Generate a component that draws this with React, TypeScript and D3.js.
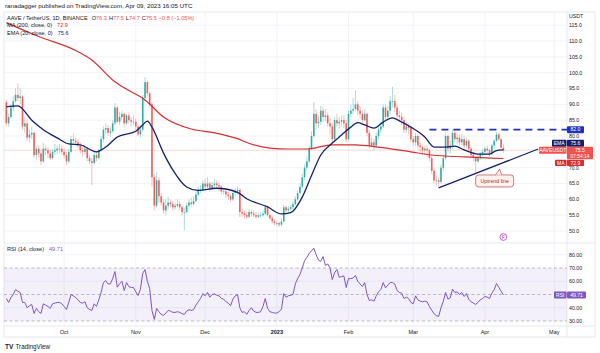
import React from "react";
import * as d3 from "d3";

// ---- data ----
const firstDay = [2022, 8, 6]; // Sep 6, 2022 (UTC), one candle per day
const firstOpen = 90.7;
const closes = [
  84, 86, 89, 91, 93, 92, 92.5, 83, 84, 79.5,
  80.5, 81, 74, 76, 74.5, 72, 76, 75.5, 74.5, 73,
  75, 75.5, 76, 76, 75, 74, 72, 75, 79, 78.5,
  78, 77, 75.5, 75, 76, 73, 72, 71.5, 74, 73,
  75.5, 79, 82, 82.5, 81, 81.5, 84, 89, 84.5, 86,
  87, 84, 86.5, 85, 84.5, 84.5, 83, 80.5, 82, 92,
  97, 93.5, 90, 67, 58, 66, 61, 59, 56.5, 58,
  59, 58.5, 57.5, 58, 58.5, 57.5, 56, 56, 58, 59,
  58.5, 59.5, 61.5, 63, 63, 65, 64, 65, 63.5, 64.5,
  65, 64.5, 64, 62.5, 62.5, 61.5, 61, 60, 62, 62.5,
  63, 56, 55.5, 55, 54.5, 56, 55.5, 55, 54.5, 55,
  55, 55.5, 57.5, 55, 54, 53, 52.5, 52.5, 52, 53,
  57.5, 56.5, 57, 57.5, 58.5, 60, 62, 64, 67, 70,
  72, 76, 80, 87, 84, 84.5, 88, 86, 86.5, 84,
  83, 79, 85, 84, 84.5, 85, 84, 79, 87, 88,
  88.5, 90, 88, 87, 85, 87, 81, 77, 78, 77,
  80, 82, 83, 89, 86, 88, 91, 91, 89, 86.5,
  86, 85, 82, 83, 82.5, 79, 78, 80, 77, 76.5,
  75.5, 76, 75.5, 73, 69, 66, 66, 65.5, 70, 73,
  80, 76, 77, 81, 79, 79.5, 78, 79, 77, 78.5,
  76, 74, 73, 72, 73, 74.5, 75, 76, 75.5, 74.5,
  77, 78.5, 80.5, 79, 76.3, 75.5,
];
const highs = [
  91.5, 87, 90, 92.5, 95, 96.7, 95, 93, 86, 85,
  82, 83, 81.5, 77, 77, 75.5, 77.8, 77, 76.5, 75.5,
  76, 77.5, 77, 77.5, 77, 76, 75, 76, 80, 81,
  79.5, 79, 78, 76.5, 77, 76.5, 74, 73, 75, 75,
  76, 80, 83, 84, 83.5, 83, 85, 90.4, 89.5, 87.6,
  88, 87.5, 87, 87.5, 86, 86.5, 85.5, 83.5, 83, 93,
  98.6, 97.5, 94, 90.5, 68, 68.5, 67, 62, 60, 60,
  60.7, 60, 59.5, 59, 60, 59.5, 58, 57.5, 59, 60,
  60.5, 61, 62.5, 64, 64.5, 66, 66.5, 67, 65.5, 65.5,
  66.5, 66, 65.5, 64.5, 63.6, 63, 62.5, 61.5, 63, 63.5,
  64, 63.5, 57, 56.5, 56, 57, 56.8, 56.5, 56, 55.8,
  56, 56.5, 58.3, 58, 55.5, 54.8, 53.6, 53.2, 53, 54,
  58.2, 58, 57.8, 58.3, 59.3, 61, 62.8, 65, 68, 71,
  73.5, 77, 81.5, 90.7, 88.5, 86.5, 89.5, 89, 88.5, 87.5,
  85.5, 84, 86, 87, 86, 86.5, 86.5, 85, 88, 90,
  92, 94.5, 91, 89.5, 88, 88.5, 87.5, 82, 79.5, 79,
  81, 83, 84.5, 90, 90, 89.5, 92.5, 95.5, 93, 90,
  88, 87.5, 86, 84.5, 84, 83, 80, 81, 80.5, 78,
  77, 77, 77, 76, 74, 70, 67.5, 67, 71, 74,
  81.3, 80.5, 78.5, 82, 82, 81, 80.5, 80.5, 80, 79.5,
  79, 76.5, 75, 73.5, 74, 75, 76, 76.5, 77, 76,
  77.5, 79, 81.3, 81, 79.5, 77.5,
];
const lows = [
  83, 83, 85.5, 88, 90.5, 91, 90, 82, 81, 78.5,
  78, 79, 73, 72.5, 73, 70.8, 71.5, 74, 73, 72.4,
  72.5, 74, 74.5, 74.5, 74, 73, 71, 71.5, 74.5, 77.5,
  77, 76, 74.5, 73.5, 74, 72, 71, 64.5, 71, 72,
  72.5, 75, 78, 80.5, 80, 79.7, 81, 83.5, 84, 83.5,
  85, 83, 83.5, 84, 83, 83.5, 82, 80, 79.5, 81.5,
  91, 92.5, 89, 64, 56.5, 57.5, 59, 58, 55.5, 55,
  57, 57.5, 56.6, 56.8, 57.5, 56.5, 55, 50.3, 55.5, 57.5,
  57.8, 58, 59, 61, 62, 62.5, 63, 63.5, 62.5, 63,
  63.5, 63.5, 62.5, 61.5, 61.5, 60.5, 59.8, 59.2, 59.5, 61,
  61.5, 54.4, 54.5, 54, 53.8, 54, 54.5, 54.3, 53.8, 54,
  54.2, 54.5, 55, 54.5, 53.5, 52.3, 51.8, 51.5, 51.3, 51.5,
  52.8, 55.8, 55.5, 56.2, 56.8, 58, 59.5, 61.5, 63.5, 66,
  69, 71.5, 75.5, 79.5, 82, 82.5, 83.5, 84.5, 84.5, 83,
  80.5, 77.8, 78.5, 83, 82.5, 83, 82.5, 78, 78.5, 86,
  87, 88, 86.5, 85.5, 84, 84.5, 80, 76, 76.5, 75.5,
  76, 79, 81, 82.5, 85, 85, 87, 89, 87.5, 85,
  84.5, 83.5, 81, 81, 80.5, 78, 77, 77, 76, 75,
  74, 74, 73.4, 72, 68, 65, 64.5, 63.9, 65, 69,
  72.5, 75, 74.5, 76, 78, 77.5, 77, 77, 76, 76,
  75, 73, 72, 68.6, 71.5, 72.5, 73.5, 74, 74.5, 73.5,
  74, 76, 78, 78.5, 76, 74.7,
];
const rsiValues = [
  47, 44, 47.7, 50, 53.7, 52.5, 51.5, 44, 44, 40,
  41.5, 42.5, 35.7, 39.5, 37, 35.7, 43, 42, 41, 39.5,
  43, 43.5, 44, 44, 43, 41, 38.7, 44, 50, 49,
  47.7, 46, 44, 43.5, 44.5, 40, 38.7, 38, 43, 41,
  46, 51.5, 59, 60.5, 58, 58, 62, 67.3, 55.5, 58,
  60, 53, 59, 56, 55.3, 55.3, 52, 49.3, 54, 66,
  68.8, 60, 54.5, 38, 31.2, 39.5, 37, 35, 34.2, 36,
  38, 37.5, 36.5, 36.5, 37, 36.5, 35.5, 35, 37.5, 38.5,
  38, 38.5, 42, 44.5, 47, 50.7, 49, 51.5, 48, 50,
  50.5, 49.5, 49, 47, 46.5, 44.5, 43.5, 41.5, 46.5, 49,
  50, 40, 36.5, 37, 35, 38, 40, 37.5, 36.5, 36.5,
  37, 41, 47, 39.5, 37, 36.5, 36, 36, 37, 39,
  50.7, 48, 49, 49.5, 50, 58, 62, 65, 70, 75.5,
  78, 81, 83, 85, 80, 76, 75, 78.6, 72, 73,
  70, 61.3, 66.5, 68.8, 63, 63.5, 64, 55.3, 62, 62,
  62.5, 64.3, 60, 58, 56, 59, 50, 45.5, 46, 45,
  49, 52, 53.8, 59, 55, 57, 59, 59, 58, 53,
  51.5, 51, 47, 48, 47, 44, 43, 49, 46, 45,
  44.5, 45, 44.5, 41, 38, 35.5, 34, 33.5, 40, 45,
  51.5, 46.5, 47.5, 54, 51.5, 52, 50, 51.5, 48.5, 50.7,
  46.5, 44.5, 43.5, 42.5, 44, 46, 47, 48.5, 48, 47,
  51, 53.5, 58.3, 55.5, 52.5, 49.71,
];
const ema20: [string, number][] = [
  ["2022-09-06", 89.2], ["2022-09-11", 89.5], ["2022-09-17", 85], ["2022-09-22", 82],
  ["2022-09-28", 79.4], ["2022-10-03", 77.5], ["2022-10-08", 77.2], ["2022-10-15", 75],
  ["2022-10-19", 76.5], ["2022-10-24", 79.7], ["2022-11-01", 81.5], ["2022-11-04", 83.5],
  ["2022-11-06", 84.7], ["2022-11-08", 82.8], ["2022-11-13", 74.6], ["2022-11-17", 69.3],
  ["2022-11-23", 63.9], ["2022-11-28", 62.8], ["2022-12-06", 63.5], ["2022-12-15", 62.2],
  ["2022-12-19", 60.2], ["2022-12-28", 57.6], ["2023-01-03", 55.4], ["2023-01-07", 55.8],
  ["2023-01-12", 60.7], ["2023-01-16", 67.5], ["2023-01-20", 74], ["2023-01-25", 77.8],
  ["2023-01-29", 80.3], ["2023-02-02", 82.8], ["2023-02-05", 84.2], ["2023-02-08", 83.5],
  ["2023-02-12", 82.5], ["2023-02-16", 84.4], ["2023-02-20", 85.7], ["2023-02-23", 84.8],
  ["2023-02-28", 82.8], ["2023-03-06", 79.7], ["2023-03-10", 76.5], ["2023-03-15", 76.5],
  ["2023-03-19", 76.8], ["2023-03-23", 75.6], ["2023-03-29", 74.3], ["2023-04-03", 74.3],
  ["2023-04-06", 75.4], ["2023-04-09", 75.6],
];
const ma200: [string, number][] = [
  ["2022-09-06", 115.8], ["2022-09-20", 111.4], ["2022-10-06", 107], ["2022-10-13", 104],
  ["2022-10-22", 97.7], ["2022-10-27", 95.2], ["2022-11-05", 91.4], ["2022-11-13", 86],
  ["2022-11-25", 82.2], ["2022-12-05", 81], ["2022-12-14", 79.4], ["2022-12-22", 77.2],
  ["2022-12-29", 76.2], ["2023-01-06", 75.9], ["2023-01-14", 75.9], ["2023-01-25", 77.2],
  ["2023-02-04", 77.2], ["2023-02-14", 76.5], ["2023-02-28", 75], ["2023-03-09", 74],
  ["2023-03-23", 73.4], ["2023-04-09", 72.9],
];
const priceTicks = [50, 55, 60, 65, 70, 80, 85, 90, 95, 100, 105, 110, 115];
const rsiTicks = [30, 40, 60, 70, 80];
const rsiGrid = [40, 60, 80];
const rsiDashed = [30, 50, 70];
const months: [string, string][] = [
  ["2022-10-01", "Oct"], ["2022-11-01", "Nov"], ["2022-12-01", "Dec"], ["2023-01-01", "2023"],
  ["2023-02-01", "Feb"], ["2023-03-01", "Mar"], ["2023-04-01", "Apr"], ["2023-05-01", "May"],
];
const resistance = { level: 82.0, from: "2023-03-08" };
const trendLine: [string, number][] = [["2023-03-12", 63.6], ["2023-04-24", 75.9]];
const callout = { date: "2023-03-28", price: 67.7, text: "Uptrend line" };
const eventMark = { date: "2023-04-09", price: 48.1, text: "F" };
const last = { close: 75.5, ema: 75.6, ma: 72.9, rsi: 49.71, countdown: "07:54:14" };

// ---- layout ----
const W = 600, H = 353;
const L = 4, R = 567, RE = 595;
const PT = 12, PB = 243, RB = 326, TB = 337;
const FONT = "'Liberation Sans', Arial, sans-serif";
const UP = "#26a69a", DOWN = "#ef5350";
const TXT = "#131722", GRID = "#f0f3fa", BORDER = "#e0e3eb";
const EMA_C = "#131f6b", MA_C = "#d32f2f", RES_C = "#1f33b8", RSI_C = "#7e57c2";

const parse = d3.utcParse("%Y-%m-%d");
const x = d3.scaleUtc()
  .domain([new Date(Date.UTC(2022, 8, 5)), new Date(Date.UTC(2023, 4, 6, 12))])
  .range([L, R]);
const y = d3.scaleLinear().domain([50, 110]).range([231, 41]);
const yr = d3.scaleLinear().domain([30, 70]).range([321, 268]);

const candles = closes.map((c, i) => ({
  date: new Date(Date.UTC(firstDay[0], firstDay[1], firstDay[2] + i)),
  o: i === 0 ? firstOpen : closes[i - 1],
  h: highs[i],
  l: lows[i],
  c,
}));

const priceLine = d3.line<[string, number]>()
  .x(d => x(parse(d[0]) as Date))
  .y(d => y(d[1]))
  .curve(d3.curveMonotoneX);

const rsiLine = d3.line<number>()
  .x((_, i) => x(candles[i].date))
  .y(d => yr(d));

const Tag = ({ x0, yc, w, h = 7, fill, children }: any) => (
  <g>
    <rect x={x0} y={yc - h / 2} width={w} height={h} fill={fill} rx={0.8} />
    <text x={x0 + w / 2} y={yc + 1.8} textAnchor="middle" fontSize={5.1} fill="#fff" fontFamily={FONT}>
      {children}
    </text>
  </g>
);

export default function App() {
  const yc = y(last.close);
  const emaY = yc - 7;
  const maY = yc + 12.6;
  const resY = y(resistance.level);
  const cx = x(parse(callout.date) as Date);
  const cy = y(callout.price);
  const rsiY = yr(last.rsi);

  return (
    <div style={{ position: "absolute", left: 0, top: 0, width: W, height: H, background: "#fff" }}>
      <svg width={W} height={H} style={{ display: "block" }} fontFamily={FONT}>
        <defs>
          <clipPath id="pricePane"><rect x={L} y={PT} width={R - L} height={PB - PT} /></clipPath>
          <clipPath id="rsiPane"><rect x={L} y={PB} width={R - L} height={RB - PB} /></clipPath>
        </defs>
        <rect width={W} height={H} fill="#fff" />

        <text x={5} y={8} fontSize={6.2} fill={TXT}>
          ranadagger published on TradingView.com, Apr 09, 2023 16:05 UTC
        </text>

        {/* grid */}
        {priceTicks.map(t => (
          <line key={"g" + t} x1={L} x2={R} y1={y(t)} y2={y(t)} stroke={GRID} strokeWidth={1} />
        ))}
        {rsiGrid.map(t => (
          <line key={"rg" + t} x1={L} x2={R} y1={yr(t)} y2={yr(t)} stroke={GRID} strokeWidth={1} />
        ))}
        {months.map(([d]) => {
          const mx = x(parse(d) as Date);
          return <line key={"v" + d} x1={mx} x2={mx} y1={PT} y2={RB} stroke={GRID} strokeWidth={1} />;
        })}

        {/* frame */}
        <rect x={L} y={PT} width={RE - L} height={TB - PT} fill="none" stroke={BORDER} strokeWidth={0.8} />
        <line x1={L} x2={RE} y1={PB} y2={PB} stroke={BORDER} strokeWidth={0.8} />
        <line x1={L} x2={RE} y1={RB} y2={RB} stroke={BORDER} strokeWidth={0.8} />
        <line x1={R} x2={R} y1={PT} y2={TB} stroke={BORDER} strokeWidth={0.8} />

        {/* price pane */}
        <g clipPath="url(#pricePane)">
          <line x1={L} x2={R} y1={yc} y2={yc} stroke={DOWN} strokeWidth={0.6} opacity={0.35} />
          {candles.map((d, i) => {
            const col = d.c >= d.o ? UP : DOWN;
            const px = x(d.date);
            const top = y(Math.max(d.o, d.c));
            const bot = y(Math.min(d.o, d.c));
            return (
              <g key={i}>
                <line x1={px} x2={px} y1={y(d.h)} y2={y(d.l)} stroke={col} strokeWidth={0.7} opacity={0.55} />
                <rect x={px - 0.8} y={top} width={1.6} height={Math.max(0.7, bot - top)} fill={col} opacity={0.9} />
              </g>
            );
          })}
          <path d={priceLine(ma200) || ""} fill="none" stroke={MA_C} strokeWidth={1.2} />
          <path d={priceLine(ema20) || ""} fill="none" stroke={EMA_C} strokeWidth={1.3} />
          <line x1={x(parse(resistance.from) as Date)} x2={R} y1={resY} y2={resY}
            stroke={RES_C} strokeWidth={1.6} strokeDasharray="7,5" />
          <line x1={x(parse(trendLine[0][0]) as Date)} y1={y(trendLine[0][1])}
            x2={x(parse(trendLine[1][0]) as Date)} y2={y(trendLine[1][1])}
            stroke={EMA_C} strokeWidth={1.2} />
          <path d={`M${cx + 20},${cy} L${cx + 24},${cy - 6} L${cx + 26},${cy}`} fill="#fdf1f0" stroke="#a5312c" strokeWidth={0.6} />
          <rect x={cx} y={cy} width={38} height={12} rx={3} fill="#fdf1f0" stroke="#a5312c" strokeWidth={0.6} />
          <line x1={cx + 20.3} x2={cx + 25.7} y1={cy} y2={cy} stroke="#fdf1f0" strokeWidth={0.9} />
          <text x={cx + 19} y={cy + 8} textAnchor="middle" fontSize={5.3} fill="#a5312c">{callout.text}</text>
          <circle cx={x(parse(eventMark.date) as Date)} cy={y(eventMark.price)} r={3.4} fill="#fff" stroke="#9c27b0" strokeWidth={0.7} />
          <text x={x(parse(eventMark.date) as Date)} y={y(eventMark.price) + 1.8} textAnchor="middle" fontSize={4.6} fill="#9c27b0">{eventMark.text}</text>
        </g>

        {/* legend */}
        <text x={7} y={19.5} fontSize={5.6} fill={TXT}>
          AAVE / TetherUS, 1D, BINANCE
          <tspan dx={4}>O</tspan><tspan fill={DOWN}>76.3</tspan>
          <tspan dx={2}>H</tspan><tspan fill={DOWN}>77.5</tspan>
          <tspan dx={2}>L</tspan><tspan fill={DOWN}>74.7</tspan>
          <tspan dx={2}>C</tspan><tspan fill={DOWN}>75.5</tspan>
          <tspan dx={2} fill={DOWN}>−0.8 (−1.05%)</tspan>
        </text>
        <text x={7} y={27.3} fontSize={5.6} fill={TXT}>
          MA (200, close, 0)<tspan dx={5} fill={MA_C}>{last.ma}</tspan>
        </text>
        <text x={7} y={35.1} fontSize={5.6} fill={TXT}>
          EMA (20, close, 0)<tspan dx={5} fill={EMA_C}>{last.ema}</tspan>
        </text>

        {/* price axis */}
        <text x={569} y={17.5} fontSize={5.2} fill={TXT}>USDT</text>
        {priceTicks.map(t => (
          <text key={"t" + t} x={569} y={y(t) + (t === 70 ? 2.4 : 1.9)} fontSize={t === 70 ? 5 : 5.3} fill={TXT}>{t.toFixed(1)}</text>
        ))}
        <Tag x0={R} yc={resY} w={17} fill={RES_C}>{resistance.level.toFixed(1)}</Tag>
        <Tag x0={R - 15} yc={emaY} w={14.5} fill={EMA_C}>EMA</Tag>
        <Tag x0={R} yc={emaY} w={17} fill={EMA_C}>{last.ema}</Tag>
        <Tag x0={R - 28} yc={yc} w={27.5} fill={DOWN}>AAVEUSDT</Tag>
        <g>
          <rect x={R} y={yc - 3.5} width={26} height={12.5} fill={DOWN} rx={0.8} />
          <text x={R + 13} y={yc + 1.8} textAnchor="middle" fontSize={5.1} fill="#fff">{last.close}</text>
          <text x={R + 13} y={yc + 7.6} textAnchor="middle" fontSize={4.9} fill="#fff">{last.countdown}</text>
        </g>
        <Tag x0={R - 12} yc={maY} w={11.5} h={6.4} fill={MA_C}>MA</Tag>
        <Tag x0={R} yc={maY} w={17} h={6.4} fill={MA_C}>{last.ma}</Tag>

        {/* RSI pane */}
        <g clipPath="url(#rsiPane)">
          <rect x={L} y={yr(70)} width={R - L} height={yr(30) - yr(70)} fill={RSI_C} opacity={0.09} />
          {rsiDashed.map(t => (
            <line key={"rd" + t} x1={L} x2={R} y1={yr(t)} y2={yr(t)} stroke="#787b86" strokeWidth={0.6} strokeDasharray="3,2.5" opacity={0.8} />
          ))}
          <path d={rsiLine(rsiValues) || ""} fill="none" stroke={RSI_C} strokeWidth={1} />
        </g>
        <text x={7} y={251} fontSize={5.6} fill={TXT}>
          RSI (14, close)<tspan dx={5} fill={RSI_C}>{last.rsi}</tspan>
        </text>
        {rsiTicks.map(t => (
          <text key={"rt" + t} x={569} y={yr(t) + 1.9} fontSize={5.3} fill={TXT}>{t.toFixed(2)}</text>
        ))}
        <Tag x0={R - 13} yc={rsiY} w={12.5} fill={RSI_C}>RSI</Tag>
        <Tag x0={R} yc={rsiY} w={19} fill={RSI_C}>{last.rsi}</Tag>

        {/* time axis */}
        {months.map(([d, lbl]) => (
          <text key={"m" + d} x={x(parse(d) as Date)} y={333.8} textAnchor="middle" fontSize={5.5}
            fill={TXT} fontWeight={lbl === "2023" ? 700 : 400}>{lbl}</text>
        ))}

        {/* logo */}
        <text x={5} y={348.5} fontSize={6.5} fontWeight={900} fill={TXT}>TV</text>
        <text x={15.5} y={348.5} fontSize={6.3} fill={TXT}>TradingView</text>
      </svg>
    </div>
  );
}
